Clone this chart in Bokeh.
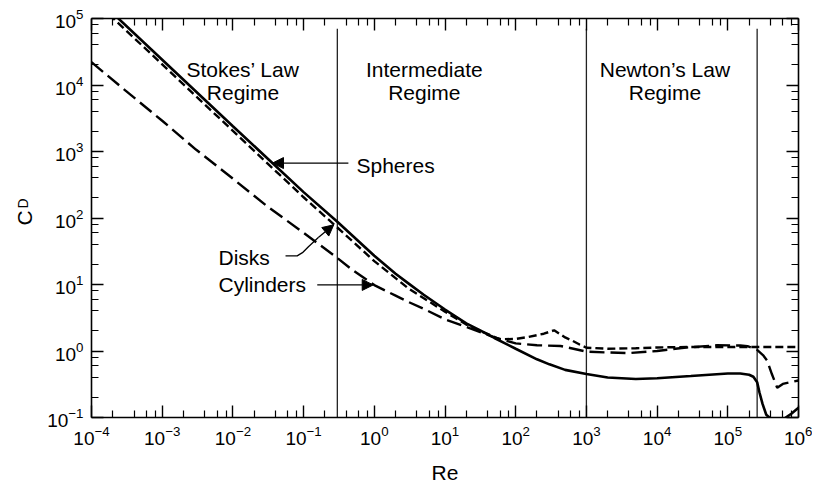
import math
from bokeh.plotting import figure
from bokeh.models import LogAxis, FixedTicker, Label, Arrow, NormalHead, CustomJSTickFormatter, Title
from bokeh.embed import file_html
from bokeh.resources import INLINE

# ---- data (Re, C_D) ----
re_sph = [1e-4, 1e-3, 1e-2, 0.1, 0.3, 1, 2, 3, 5, 10, 20, 30, 50, 100, 200, 300, 500,
          1e3, 2e3, 5e3, 1e4, 3e4, 1e5, 1.5e5, 2e5, 2.3e5, 2.6e5, 2.8e5, 3.1e5, 3.5e5,
          4.5e5, 6e5, 8e5, 1e6]
cd_sph = [2.4e5, 2.4e4, 2.4e3, 245, 88, 27, 14.5, 10.5, 7.0, 4.2, 2.6, 2.1, 1.57, 1.08, 0.75,
          0.63, 0.52, 0.45, 0.40, 0.38, 0.39, 0.42, 0.46, 0.46, 0.44, 0.41, 0.34, 0.24, 0.16,
          0.11, 0.087, 0.093, 0.115, 0.14]

re_disk = [1e-4, 1e-3, 1e-2, 0.1, 0.3, 1, 3, 10, 20, 30, 60, 100, 150, 250, 350, 500, 600,
           800, 1e3, 2e3, 5e3, 1e4, 3e4, 1e5, 1e6]
cd_disk = [2.04e5, 2.04e4, 2040, 205, 72, 22.5, 8.8, 3.9, 2.5, 2.05, 1.5, 1.52, 1.62, 1.82,
           2.05, 1.6, 1.47, 1.25, 1.12, 1.08, 1.10, 1.13, 1.15, 1.15, 1.15]

re_cyl = [1e-4, 3e-4, 1e-3, 3e-3, 1e-2, 3e-2, 0.1, 0.3, 0.5, 1, 1.5, 2, 3, 5, 10, 20, 50,
          100, 200, 430, 1e3, 2e3, 4e3, 1e4, 2.4e4, 7e4, 1.5e5, 1.9e5, 2.6e5, 3.2e5, 3.6e5,
          4.2e5, 5e5, 6e5, 1e6]
cd_cyl = [2.2e4, 8.3e3, 2.9e3, 1.07e3, 390, 152, 60, 25, 16.3, 9.8, 7.9, 6.8, 5.5, 4.3, 3.0,
          2.3, 1.6, 1.3, 1.22, 1.19, 0.98, 0.95, 0.93, 1.0, 1.12, 1.22, 1.21, 1.18, 1.04, 0.85,
          0.72, 0.45, 0.28, 0.32, 0.36]

regime_bounds = [0.3, 1e3, 2.6e5]

x_major = [1e-4, 1e-3, 1e-2, 1e-1, 1e0, 1e1, 1e2, 1e3, 1e4, 1e5, 1e6]
y_major = [1e-1, 1e0, 1e1, 1e2, 1e3, 1e4, 1e5]
minor_mult = [2, 4, 6, 8]
x_minor = [m * d for d in x_major[:-1] for m in minor_mult]
y_minor = [m * d for d in y_major[:-1] for m in minor_mult]

FONT = "Liberation Sans"

p = figure(width=812, height=486, x_axis_type="log", y_axis_type="log",
           x_range=(1e-4, 1e6), y_range=(1e-1, 1e5),
           output_backend="svg", toolbar_location=None,
           min_border_left=91, min_border_right=14, min_border_top=18, min_border_bottom=64)
p.xgrid.visible = False
p.ygrid.visible = False
p.outline_line_color = None
p.background_fill_color = "white"
p.border_fill_color = "white"


def style_axis(ax, ticks, minor, show_labels, standoff=9):
    ax.ticker = FixedTicker(ticks=ticks, minor_ticks=minor)
    ax.axis_line_color = "black"
    ax.axis_line_width = 1.6
    ax.major_tick_line_color = "black"
    ax.major_tick_line_width = 1.4
    ax.minor_tick_line_color = "black"
    ax.minor_tick_line_width = 1.2
    ax.major_tick_in = 12
    ax.major_tick_out = 0
    ax.minor_tick_in = 7
    ax.minor_tick_out = 0
    if show_labels:
        ax.major_label_text_font = FONT
        ax.major_label_text_font_size = "19px"
        ax.major_label_text_color = "black"
        ax.major_label_standoff = standoff
    else:
        ax.formatter = CustomJSTickFormatter(code="return ''")
        ax.major_label_text_font_size = "1px"
        ax.major_label_standoff = 0


style_axis(p.xaxis[0], x_major, x_minor, True, standoff=8)
style_axis(p.yaxis[0], y_major, y_minor, True, standoff=8)

xa = p.xaxis[0]
xa.axis_label = "Re"
xa.axis_label_text_font = FONT
xa.axis_label_text_font_size = "21px"
xa.axis_label_text_font_style = "normal"
xa.axis_label_text_color = "black"
xa.axis_label_standoff = 13

ya = p.yaxis[0]
ya.axis_label = "C"
ya.axis_label_text_font = FONT
ya.axis_label_text_font_size = "21px"
ya.axis_label_text_font_style = "normal"
ya.axis_label_text_color = "black"
ya.axis_label_standoff = 8

top = LogAxis()
style_axis(top, x_major, x_minor, False)
p.add_layout(top, "above")
right = LogAxis()
style_axis(right, y_major, y_minor, False)
p.add_layout(right, "right")

# subscript "D" of the y axis title, placed just above the "C"
p.add_layout(Title(text="D", text_font=FONT, text_font_size="14px", text_font_style="normal",
                   text_color="black", align="left", offset=209, standoff=-41), "left")

# regime boundaries
p.segment(x0=regime_bounds, x1=regime_bounds, y0=[0.1] * 3, y1=[7e4] * 3,
          line_color="#222222", line_width=1.3)

# curves
p.line(re_cyl, cd_cyl, line_color="black", line_width=2.4, line_dash="15 6")
p.line(re_disk, cd_disk, line_color="black", line_width=2.4, line_dash="8 4")
p.line(re_sph, cd_sph, line_color="black", line_width=2.6)


def text(x, y, s, size="21px", align="center", angle=0.0):
    p.add_layout(Label(x=x, y=y, text=s, text_font=FONT, text_font_size=size,
                       text_color="black", text_align=align, text_baseline="middle",
                       angle=angle))


# regime titles
text(0.0139, 16900, "Stokes\u2019 Law")
text(0.0139, 7700, "Regime")
text(5.1, 16900, "Intermediate")
text(5.1, 7700, "Regime")
text(12900, 16900, "Newton\u2019s Law")
text(12900, 7700, "Regime")

# curve names
text(0.56, 611, "Spheres", align="left")
text(0.00625, 25.4, "Disks", align="left")
text(0.00625, 10.0, "Cylinders", align="left")

# arrows
def arrow(x0, y0, x1, y1):
    p.add_layout(Arrow(x_start=x0, y_start=y0, x_end=x1, y_end=y1,
                       line_color="black", line_width=1.3,
                       end=NormalHead(size=11, fill_color="black", line_color="black")))


arrow(0.43, 670, 0.0363, 670)
arrow(0.156, 9.85, 0.965, 9.85)
p.line([0.0555, 0.0811, 0.0964, 0.117, 0.163], [26.9, 26.9, 30.1, 37.0, 51.2],
       line_color="black", line_width=1.3)
arrow(0.163, 51.2, 0.267, 79)

open("out.html", "w").write(file_html(p, INLINE))
